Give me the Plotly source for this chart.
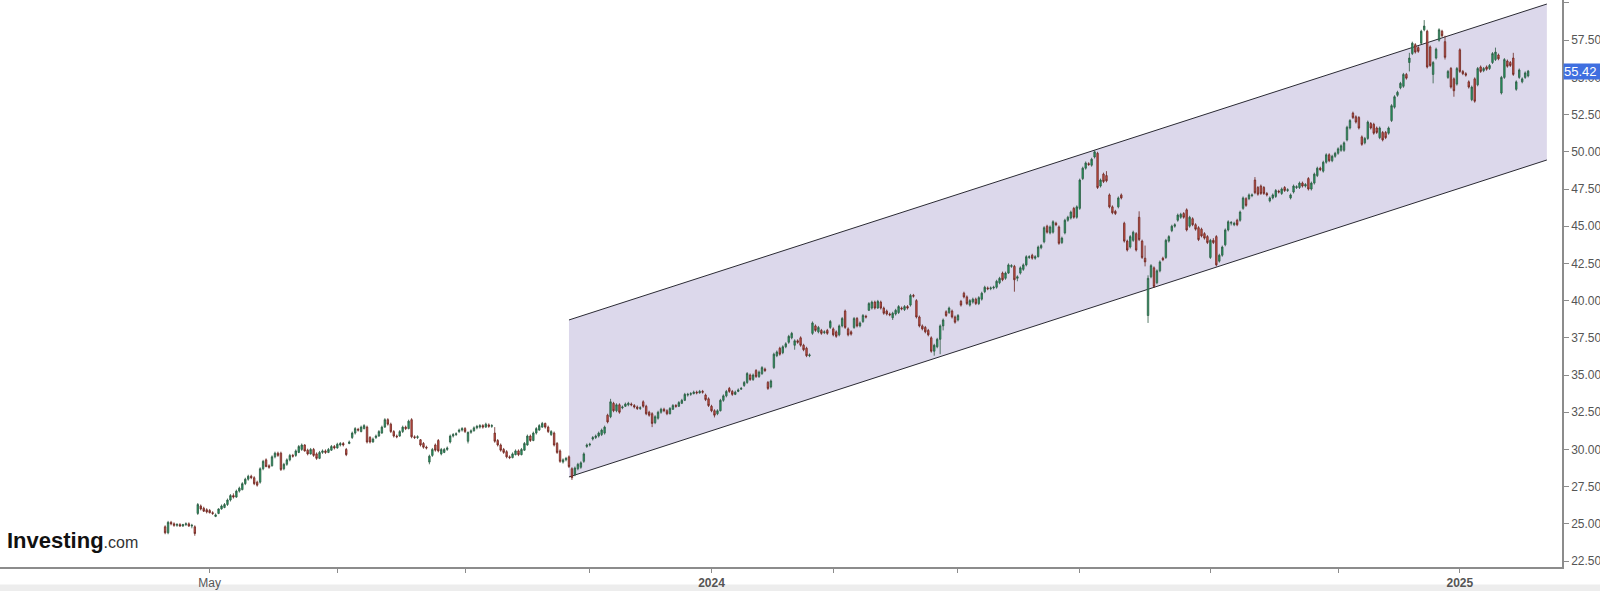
import pandas as pd
import plotly.graph_objects as go

# ---------------- data (daily candles) ----------------
start_date = "2023-04-10"
end_date = "2025-02-06"
holidays = ["2023-05-29", "2023-06-19", "2023-07-04", "2023-09-04", "2023-11-23", "2023-12-25",
            "2024-01-01", "2024-01-15", "2024-02-19", "2024-03-29", "2024-05-27", "2024-06-19",
            "2024-07-04", "2024-09-02", "2024-11-28", "2024-12-25",
            "2025-01-01", "2025-01-09", "2025-01-20"]

open_ = [
    24.8, 24.4, 25.1, 25.0, 24.9, 24.95, 24.85, 24.95, 25.0, 24.85,
    24.8, 25.7, 26.2, 26.05, 25.95, 25.9, 25.75, 25.5, 25.7, 26.0,
    26.1, 26.3, 26.6, 26.9, 26.8, 27.2, 27.3, 27.7, 28.0, 28.2,
    28.1, 27.8, 27.8, 28.7, 29.3, 28.9, 28.9, 29.5, 29.75, 29.75,
    28.7, 29.0, 29.3, 29.6, 29.6, 29.8, 30.0, 30.3, 29.95, 29.7,
    30.0, 29.7, 29.4, 29.8, 29.9, 29.8, 29.95, 30.2, 30.1, 30.3,
    30.4, 30.0, 30.4, 30.8, 31.1, 31.35, 31.2, 31.4, 31.5, 30.8,
    30.5, 30.8, 30.9, 31.1, 31.5, 32.0, 31.7, 31.2, 30.9, 30.9,
    31.2, 31.5, 31.4, 32.0, 30.85, 30.8, 30.65, 30.4, 30.15, 29.15,
    29.6, 30.3, 30.6, 29.7, 29.8, 30.0, 30.5, 30.9, 31.0, 31.2,
    31.3, 31.4, 30.55, 31.15, 31.25, 31.45, 31.5, 31.6, 31.5, 31.65,
    31.55, 31.1, 30.6, 30.3, 30.0, 29.85, 29.5, 29.45, 29.65, 29.9,
    29.65, 29.95, 30.3, 30.9, 30.6, 31.1, 31.3, 31.5, 31.75, 31.5,
    31.0, 31.1, 30.4, 29.9, 29.15, 29.3, 29.5, 28.7, 28.3, 28.7,
    28.8, 29.2, 30.2, 30.3, 30.7, 30.8, 30.9, 31.0, 31.1, 32.3,
    32.2, 33.1, 32.6, 33.0, 32.8, 32.9, 33.0, 33.05, 32.95, 32.85,
    32.75, 33.2, 32.9, 32.5, 32.4, 31.8, 32.1, 32.5, 32.7, 32.6,
    32.4, 32.7, 32.95, 32.9, 33.1, 33.3, 33.65, 33.7, 33.75, 33.85,
    33.8, 33.9, 33.65, 33.4, 32.9, 32.6, 32.4, 32.6, 33.3, 33.6,
    34.1, 33.9, 33.7, 33.9, 34.05, 34.3, 34.5, 35.0, 34.7, 35.3,
    34.9, 35.1, 35.4, 34.5, 34.2, 35.5, 36.3, 36.8, 36.5, 36.9,
    37.2, 37.5, 37.0, 37.3, 37.5, 37.0, 36.8, 36.3, 37.8, 38.3,
    37.9, 38.0, 37.85, 38.0, 38.2, 38.1, 37.9, 37.7, 38.3, 39.3,
    38.1, 37.9, 38.2, 38.8, 38.3, 38.6, 38.95, 39.35, 39.5, 39.9,
    39.5, 39.9, 39.5, 39.3, 39.1, 38.85, 39.1, 39.2, 39.5, 39.4,
    39.6, 39.7, 40.35, 40.0, 38.9, 38.3, 38.2, 38.0, 37.5, 36.6,
    36.9, 37.4, 38.3, 39.25, 39.2, 39.3, 38.9, 38.7, 39.95, 40.5,
    40.25, 39.7, 39.9, 40.1, 39.8, 40.1, 40.6, 40.85, 40.8, 40.85,
    40.9, 41.2, 41.85, 41.5, 41.85, 42.3, 42.3, 41.5, 41.85, 42.1,
    42.4, 42.9, 43.05, 42.85, 42.95, 43.55, 43.95, 45.0, 44.55, 44.6,
    45.2, 44.95, 43.9, 44.55, 45.4, 45.55, 46.2, 45.6, 46.2, 48.2,
    48.9, 49.2, 49.1, 49.65, 49.9, 47.7, 48.5, 48.4, 47.1, 46.3,
    46.0, 46.3, 47.1, 45.2, 44.0, 43.6, 44.05, 44.5, 45.6, 44.0,
    42.85, 39.0, 41.6, 42.2, 41.2, 42.0, 42.85, 42.9, 44.0, 44.7,
    45.0, 45.4, 45.6, 45.85, 46.1, 45.0, 45.5, 45.1, 44.9, 44.8,
    44.5, 44.3, 42.9, 44.05, 44.3, 42.65, 43.05, 43.75, 44.75, 45.2,
    45.1, 45.4, 45.4, 46.2, 46.85, 46.85, 47.05, 48.1, 47.6, 47.7,
    47.6, 47.2, 46.7, 46.9, 47.0, 47.35, 47.2, 47.6, 47.4, 46.9,
    47.3, 47.6, 47.6, 47.9, 47.7, 48.2, 47.5, 47.9, 48.4, 48.9,
    48.7, 49.3, 49.8, 49.4, 49.7, 49.9, 50.1, 50.1, 50.8, 51.6,
    52.6, 52.35, 52.3, 51.0, 50.6, 50.9, 51.9, 51.85, 51.6, 50.95,
    51.3, 51.3, 51.25, 52.1, 53.0, 53.8, 54.3, 54.4, 55.2, 56.0,
    56.6, 57.2, 57.0, 57.3, 58.2, 58.1, 57.05, 55.2, 56.3, 57.5,
    58.1, 57.4, 55.0, 55.6, 54.9, 54.55, 56.85, 55.4, 55.25, 54.7,
    53.5, 54.9, 54.5, 55.7, 55.45, 55.7, 55.6, 56.0, 56.2, 56.5,
    53.95, 55.0, 56.1, 56.0, 56.3, 54.2, 55.0, 54.7, 55.0, 55.1,
]

high = [
    24.9, 25.2, 25.2, 25.1, 25.05, 25.05, 25.0, 25.1, 25.1, 25.0,
    24.9, 26.4, 26.3, 26.15, 26.05, 26.0, 25.85, 25.7, 26.05, 26.3,
    26.4, 26.7, 27.0, 27.05, 27.3, 27.5, 27.8, 28.1, 28.3, 28.3,
    28.2, 27.9, 28.8, 29.3, 29.4, 29.0, 29.6, 29.85, 29.85, 29.85,
    29.1, 29.4, 29.7, 29.7, 30.0, 30.3, 30.4, 30.35, 30.05, 30.1,
    30.1, 29.8, 29.9, 30.0, 30.0, 30.1, 30.3, 30.3, 30.45, 30.5,
    30.5, 30.1, 30.6, 31.2, 31.5, 31.45, 31.6, 31.7, 31.6, 30.9,
    30.8, 31.0, 31.3, 31.6, 32.1, 32.1, 31.8, 31.3, 31.0, 31.3,
    31.6, 31.6, 32.0, 32.1, 30.95, 30.95, 30.7, 30.5, 30.25, 29.65,
    30.1, 30.4, 30.7, 30.1, 30.1, 30.2, 31.0, 31.1, 31.15, 31.4,
    31.5, 31.5, 31.2, 31.35, 31.55, 31.65, 31.7, 31.7, 31.8, 31.75,
    31.7, 31.5, 30.7, 30.4, 30.1, 29.95, 29.6, 29.8, 30.0, 30.0,
    30.1, 30.5, 31.0, 31.0, 31.2, 31.5, 31.7, 31.85, 31.8, 31.6,
    31.3, 31.2, 30.5, 30.0, 29.4, 29.5, 29.6, 28.8, 28.85, 29.1,
    29.2, 29.8, 30.4, 30.45, 30.9, 31.0, 31.2, 31.4, 31.6, 32.4,
    33.4, 33.2, 33.1, 33.1, 32.95, 33.15, 33.2, 33.15, 33.05, 32.95,
    32.9, 33.3, 33.0, 32.6, 32.5, 32.3, 32.6, 32.8, 32.8, 32.7,
    32.85, 33.05, 33.05, 33.25, 33.4, 33.8, 33.8, 33.85, 33.95, 33.95,
    34.0, 34.0, 33.75, 33.5, 33.0, 32.7, 32.7, 33.4, 33.7, 34.0,
    34.2, 34.0, 33.95, 34.1, 34.2, 34.6, 35.2, 35.1, 35.1, 35.4,
    35.3, 35.6, 35.5, 34.6, 34.7, 36.5, 36.65, 36.9, 37.0, 37.2,
    37.7, 37.9, 37.4, 37.4, 37.6, 37.1, 36.9, 36.45, 38.6, 38.4,
    38.3, 38.1, 38.0, 38.1, 38.7, 38.2, 38.0, 38.4, 38.9, 39.4,
    38.2, 38.0, 38.9, 38.9, 38.6, 39.1, 39.05, 39.9, 40.0, 40.0,
    40.05, 40.0, 39.6, 39.4, 39.2, 39.25, 39.45, 39.7, 39.6, 39.7,
    39.7, 40.45, 40.45, 40.1, 39.0, 38.4, 38.3, 38.1, 37.6, 37.1,
    37.5, 38.4, 38.8, 39.35, 39.6, 39.4, 39.0, 39.1, 40.05, 40.6,
    40.35, 40.1, 40.2, 40.2, 40.3, 40.6, 41.0, 40.95, 40.95, 41.0,
    41.4, 41.6, 41.95, 41.95, 42.5, 42.45, 42.4, 41.7, 42.3, 42.5,
    43.05, 43.05, 43.15, 43.05, 43.7, 43.8, 45.0, 45.1, 45.05, 45.4,
    45.3, 45.05, 44.3, 45.5, 45.7, 46.05, 46.3, 46.4, 48.2, 49.0,
    49.35, 49.3, 49.6, 50.1, 50.0, 48.2, 48.6, 48.7, 47.2, 46.4,
    46.1, 47.0, 47.2, 45.3, 44.1, 44.4, 44.7, 44.6, 46.0, 44.1,
    43.7, 41.7, 42.45, 42.3, 42.1, 42.7, 42.95, 44.15, 44.4, 45.1,
    45.2, 45.85, 45.9, 45.95, 46.2, 45.7, 45.6, 45.2, 45.0, 44.9,
    44.6, 44.4, 44.15, 44.2, 44.4, 43.15, 43.7, 44.85, 45.4, 45.35,
    45.3, 45.5, 46.05, 47.0, 46.95, 47.2, 47.2, 48.3, 47.7, 47.8,
    47.7, 47.3, 47.0, 47.2, 47.5, 47.45, 47.6, 47.7, 47.55, 47.2,
    47.8, 47.75, 48.0, 48.0, 47.9, 48.3, 48.0, 48.6, 49.0, 49.0,
    49.4, 49.9, 49.9, 49.8, 50.0, 50.3, 50.5, 50.7, 51.75, 52.2,
    52.7, 52.45, 52.4, 51.1, 51.0, 52.1, 52.0, 51.95, 51.7, 51.7,
    51.4, 51.4, 51.7, 53.2, 53.8, 54.1, 54.7, 55.3, 55.3, 56.65,
    57.4, 57.3, 57.1, 58.2, 58.85, 58.2, 57.15, 56.1, 57.0, 58.3,
    58.2, 57.8, 55.5, 55.7, 55.0, 55.7, 56.95, 55.5, 55.35, 54.8,
    54.45, 55.0, 55.7, 55.8, 55.7, 55.8, 55.9, 56.7, 57.0, 56.6,
    55.1, 56.3, 56.2, 56.1, 56.65, 54.8, 55.6, 55.0, 55.4, 55.5,
]

low = [
    24.3, 24.3, 24.9, 24.8, 24.8, 24.8, 24.8, 24.85, 24.8, 24.7,
    24.2, 25.6, 25.9, 25.8, 25.7, 25.7, 25.6, 25.45, 25.65, 25.95,
    26.05, 26.2, 26.5, 26.7, 26.75, 27.1, 27.25, 27.6, 27.9, 28.0,
    27.6, 27.5, 27.7, 28.6, 28.8, 28.7, 28.85, 29.4, 29.5, 28.55,
    28.6, 28.9, 29.2, 29.45, 29.5, 29.75, 29.9, 29.85, 29.6, 29.65,
    29.5, 29.3, 29.35, 29.7, 29.7, 29.75, 29.9, 30.0, 30.05, 30.2,
    30.2, 29.55, 30.35, 30.7, 31.0, 31.2, 31.15, 31.35, 30.4, 30.4,
    30.45, 30.7, 30.85, 31.05, 31.45, 31.6, 31.1, 30.8, 30.75, 30.85,
    31.1, 31.3, 31.35, 30.75, 30.7, 30.7, 30.2, 30.05, 30.0, 29.0,
    29.5, 29.85, 29.8, 29.6, 29.75, 29.9, 30.4, 30.8, 30.9, 31.1,
    31.2, 31.1, 30.4, 31.05, 31.2, 31.35, 31.4, 31.4, 31.45, 31.45,
    31.45, 30.45, 30.2, 29.85, 29.7, 29.4, 29.35, 29.4, 29.6, 29.55,
    29.6, 29.9, 30.25, 30.5, 30.55, 31.0, 31.25, 31.45, 31.4, 31.1,
    30.9, 30.2, 29.7, 29.1, 29.05, 29.2, 28.75, 27.95, 28.2, 28.6,
    28.7, 29.1, 30.1, 30.2, 30.6, 30.7, 30.8, 30.9, 31.0, 31.75,
    32.1, 32.5, 32.5, 32.4, 32.7, 32.85, 32.9, 32.9, 32.75, 32.65,
    32.65, 32.8, 32.3, 32.2, 31.5, 31.7, 32.0, 32.4, 32.5, 32.3,
    32.35, 32.65, 32.8, 32.85, 33.05, 33.25, 33.55, 33.6, 33.7, 33.7,
    33.75, 33.75, 33.25, 32.85, 32.5, 32.15, 32.3, 32.55, 33.2, 33.5,
    33.8, 33.6, 33.65, 33.85, 34.0, 34.2, 34.4, 34.6, 34.6, 34.8,
    34.8, 35.0, 35.2, 34.0, 34.1, 35.4, 36.2, 36.3, 36.4, 36.8,
    37.1, 37.4, 36.7, 37.1, 36.9, 36.6, 36.2, 36.2, 37.7, 37.9,
    37.8, 37.7, 37.75, 37.7, 38.1, 37.6, 37.5, 37.6, 38.2, 38.1,
    37.6, 37.65, 38.1, 38.2, 38.2, 38.5, 38.8, 39.3, 39.4, 39.4,
    39.45, 39.4, 39.05, 39.0, 38.95, 38.7, 39.0, 39.1, 39.35, 39.3,
    39.4, 39.6, 40.2, 38.8, 38.2, 38.0, 37.8, 37.6, 36.5, 36.3,
    36.8, 36.4, 38.0, 38.9, 39.1, 38.8, 38.45, 38.6, 39.6, 40.15,
    39.7, 39.6, 39.8, 39.7, 39.7, 40.0, 40.5, 40.7, 40.7, 40.75,
    40.8, 41.1, 41.3, 41.4, 41.8, 42.2, 40.6, 41.3, 41.75, 42.0,
    42.3, 42.8, 42.75, 42.75, 42.9, 43.45, 43.85, 44.5, 44.45, 44.5,
    45.0, 43.75, 43.8, 44.45, 45.3, 45.45, 45.5, 45.5, 46.1, 48.1,
    48.8, 49.05, 49.0, 49.55, 47.5, 47.6, 47.9, 47.95, 46.2, 45.8,
    45.75, 46.2, 46.8, 43.9, 43.3, 43.5, 43.95, 43.3, 44.0, 42.8,
    42.3, 38.5, 41.5, 40.85, 41.1, 41.9, 42.65, 42.8, 43.9, 44.6,
    44.9, 45.3, 45.5, 45.5, 44.65, 44.9, 45.0, 44.7, 44.0, 44.25,
    44.1, 43.8, 42.8, 43.8, 42.3, 42.55, 42.95, 43.65, 44.65, 45.05,
    45.0, 45.0, 45.3, 46.1, 46.3, 46.75, 46.95, 47.15, 47.05, 47.1,
    47.1, 47.0, 46.6, 46.8, 46.9, 47.2, 47.1, 47.3, 47.3, 46.8,
    47.2, 47.5, 47.5, 47.6, 47.6, 47.4, 47.4, 47.8, 48.3, 48.7,
    48.6, 49.2, 49.3, 49.3, 49.6, 49.8, 50.0, 50.0, 50.7, 51.5,
    52.2, 51.9, 51.5, 50.4, 50.5, 50.8, 51.5, 51.15, 51.2, 50.85,
    50.7, 50.85, 51.15, 52.0, 52.9, 53.7, 54.2, 54.3, 54.85, 55.4,
    56.5, 56.6, 56.65, 57.2, 58.1, 55.6, 55.7, 54.6, 56.2, 57.4,
    57.7, 56.2, 54.9, 54.25, 53.7, 54.45, 55.3, 55.15, 55.05, 54.25,
    53.4, 53.3, 54.4, 55.3, 55.35, 55.45, 55.5, 55.9, 56.1, 56.15,
    53.85, 54.9, 55.65, 55.7, 55.1, 54.1, 54.9, 54.6, 54.9, 55.0,
]

close = [
    24.4, 25.1, 25.0, 24.9, 24.95, 24.85, 24.95, 25.0, 24.85, 24.9,
    24.35, 26.3, 26.0, 25.85, 25.8, 25.75, 25.7, 25.6, 26.0, 26.2,
    26.3, 26.6, 26.9, 26.8, 27.2, 27.4, 27.7, 28.0, 28.2, 28.1,
    27.7, 27.6, 28.7, 29.2, 28.85, 28.8, 29.5, 29.75, 29.6, 28.65,
    29.0, 29.3, 29.6, 29.55, 29.9, 30.2, 30.3, 29.9, 29.7, 30.0,
    29.6, 29.4, 29.8, 29.9, 29.8, 30.0, 30.2, 30.1, 30.35, 30.4,
    30.3, 29.65, 30.5, 31.1, 31.4, 31.3, 31.5, 31.6, 30.5, 30.5,
    30.7, 30.9, 31.2, 31.5, 32.0, 31.7, 31.2, 30.9, 30.85, 31.2,
    31.5, 31.4, 31.9, 30.85, 30.8, 30.85, 30.3, 30.15, 30.1, 29.55,
    30.0, 29.95, 29.9, 30.0, 30.0, 30.1, 30.9, 31.0, 31.05, 31.3,
    31.4, 31.2, 31.15, 31.25, 31.45, 31.55, 31.6, 31.5, 31.7, 31.55,
    31.6, 30.55, 30.3, 29.95, 29.8, 29.5, 29.45, 29.7, 29.9, 29.65,
    30.0, 30.4, 30.9, 30.6, 31.1, 31.4, 31.6, 31.75, 31.5, 31.2,
    31.2, 30.3, 29.8, 29.2, 29.3, 29.4, 28.85, 28.1, 28.75, 29.0,
    29.1, 29.7, 30.3, 30.35, 30.8, 30.9, 31.1, 31.3, 31.5, 31.85,
    33.2, 32.6, 33.0, 32.5, 32.85, 33.05, 33.1, 33.0, 32.85, 32.75,
    32.8, 32.9, 32.4, 32.3, 31.75, 32.2, 32.5, 32.7, 32.6, 32.4,
    32.75, 32.95, 32.9, 33.15, 33.3, 33.7, 33.7, 33.75, 33.85, 33.8,
    33.9, 33.85, 33.35, 32.95, 32.6, 32.3, 32.6, 33.3, 33.6, 33.9,
    33.9, 33.7, 33.85, 34.0, 34.1, 34.5, 35.1, 34.7, 35.0, 34.9,
    35.2, 35.5, 35.3, 34.1, 34.6, 36.4, 36.55, 36.4, 36.9, 37.1,
    37.6, 37.8, 37.3, 37.2, 37.0, 36.7, 36.3, 36.35, 38.5, 38.0,
    38.2, 37.8, 37.9, 37.8, 38.6, 37.7, 37.6, 38.3, 38.8, 38.2,
    37.7, 37.75, 38.8, 38.3, 38.5, 39.0, 38.9, 39.8, 39.9, 39.5,
    39.95, 39.5, 39.15, 39.1, 39.05, 39.15, 39.35, 39.6, 39.45, 39.6,
    39.5, 40.35, 40.3, 38.9, 38.3, 38.1, 37.9, 37.7, 36.6, 37.0,
    37.4, 38.3, 38.7, 39.0, 39.5, 38.9, 38.55, 39.0, 39.7, 40.25,
    39.8, 40.0, 40.1, 39.8, 40.2, 40.5, 40.9, 40.8, 40.85, 40.9,
    41.3, 41.5, 41.4, 41.85, 42.4, 42.35, 41.4, 41.6, 42.2, 42.4,
    42.95, 42.95, 42.85, 42.95, 43.6, 43.7, 44.9, 44.6, 44.95, 45.3,
    45.1, 43.85, 44.2, 45.4, 45.6, 45.95, 45.6, 46.3, 48.1, 48.9,
    49.25, 49.15, 49.5, 50.0, 47.6, 48.1, 48.0, 48.05, 46.3, 45.9,
    45.85, 46.9, 46.9, 44.0, 43.4, 44.3, 44.6, 43.4, 44.1, 42.9,
    42.6, 41.5, 42.35, 40.95, 42.0, 42.6, 42.75, 44.05, 44.3, 45.0,
    45.1, 45.75, 45.8, 45.6, 44.75, 45.6, 45.1, 44.8, 44.1, 44.35,
    44.2, 43.9, 44.05, 43.9, 42.4, 43.05, 43.6, 44.75, 45.3, 45.25,
    45.2, 45.1, 45.95, 46.9, 46.4, 47.1, 47.1, 47.25, 47.15, 47.2,
    47.2, 47.1, 46.9, 47.1, 47.4, 47.3, 47.5, 47.4, 47.45, 47.1,
    47.7, 47.65, 47.9, 47.7, 47.8, 47.5, 47.9, 48.5, 48.9, 48.8,
    49.3, 49.8, 49.4, 49.7, 49.9, 50.2, 50.4, 50.6, 51.65, 52.1,
    52.3, 52.0, 51.6, 50.5, 50.9, 52.0, 51.6, 51.25, 51.3, 51.6,
    50.8, 50.95, 51.6, 53.1, 53.7, 54.0, 54.6, 55.2, 54.95, 56.3,
    57.3, 56.7, 56.75, 58.1, 58.45, 55.7, 55.8, 56.0, 56.9, 58.2,
    57.8, 56.35, 55.4, 54.35, 54.1, 55.6, 55.4, 55.25, 55.15, 54.35,
    54.35, 53.4, 55.6, 55.4, 55.6, 55.55, 55.8, 56.6, 56.7, 56.25,
    55.0, 56.2, 55.75, 55.8, 55.2, 54.7, 55.5, 54.9, 55.3, 55.42,
]

# trend channel drawn on the chart (candle index, price)
channel_x = [136.0, 465.3]
channel_upper = [38.7, 59.93]
channel_lower = [28.15, 49.45]

last_price = 55.42
y_ticks = [22.5, 25.0, 27.5, 30.0, 32.5, 35.0, 37.5, 40.0, 42.5, 45.0, 47.5, 50.0, 52.5, 55.0, 57.5, 60.0]
tick_labels = {(2023, 5): "May", (2024, 1): "<b>2024</b>", (2025, 1): "<b>2025</b>"}

# ---------------- build ----------------
n = len(close)
days = pd.bdate_range(start_date, end_date)
days = days[~days.isin(pd.to_datetime(holidays))][:n]
xs = list(range(n))

tickvals, ticktext = [], []
for i in range(1, len(days)):
    d, p = days[i], days[i - 1]
    if d.month != p.month and d.month % 2 == 1:
        tickvals.append(i)
        ticktext.append(tick_labels.get((d.year, d.month), ""))

FONT = "Liberation Sans, Arial, sans-serif"

fig = go.Figure()
fig.add_trace(go.Candlestick(
    x=xs, open=open_, high=high, low=low, close=close,
    increasing=dict(fillcolor="#22a064", line=dict(color="#2d5a43", width=0.8)),
    decreasing=dict(fillcolor="#d2554a", line=dict(color="#6b2620", width=0.8)),
    whiskerwidth=0, showlegend=False, hoverinfo="skip",
))

# channel fill + borders
fig.add_shape(type="path", xref="x", yref="y", layer="below",
              path=(f"M {channel_x[0]},{channel_upper[0]} L {channel_x[1]},{channel_upper[1]} "
                    f"L {channel_x[1]},{channel_lower[1]} L {channel_x[0]},{channel_lower[0]} Z"),
              fillcolor="#dcd8eb", line=dict(width=0))
fig.add_shape(type="line", xref="x", yref="y", layer="below",
              x0=channel_x[0], y0=channel_upper[0], x1=channel_x[1], y1=channel_upper[1],
              line=dict(color="#2a2a33", width=1))
fig.add_shape(type="line", xref="x", yref="y", layer="below",
              x0=channel_x[0], y0=channel_lower[0], x1=channel_x[1], y1=channel_lower[1],
              line=dict(color="#2a2a33", width=1))

# light strip at the very bottom
fig.add_shape(type="rect", xref="paper", yref="paper", x0=-0.01, x1=1.03,
              y0=-0.045, y1=-0.031, fillcolor="#ededed", line=dict(width=0), layer="below")

# last price tag
fig.add_annotation(x=1.0, xref="paper", y=last_price, yref="y", xanchor="left", yanchor="middle",
                   xshift=1, text=f"{last_price:.2f}&nbsp;&nbsp;", showarrow=False,
                   font=dict(family=FONT, size=13, color="white"),
                   bgcolor="#3f6fe0", borderpad=0)

# logo
fig.add_annotation(x=0.0035, xref="paper", y=0.046, yref="paper", xanchor="left", yanchor="middle",
                   text="<b>Investing</b><span style='font-size:16px;color:#333'>.com</span>",
                   showarrow=False, font=dict(family=FONT, size=22, color="#111"))

fig.update_layout(
    width=1600, height=591,
    margin=dict(l=0, r=38, t=0, b=24, pad=0),
    paper_bgcolor="white", plot_bgcolor="white",
    showlegend=False,
    xaxis=dict(range=[-55.6, 470.4], rangeslider=dict(visible=False), showgrid=False, zeroline=False,
               showline=True, linecolor="#8c8c8c", linewidth=1.5, ticks="outside", ticklen=4,
               tickcolor="#8c8c8c", tickvals=tickvals, ticktext=ticktext, automargin=False,
               tickfont=dict(family=FONT, size=12, color="#555")),
    yaxis=dict(side="right", range=[22.1, 60.2], tickvals=y_ticks, tickformat=".2f",
               showgrid=False, zeroline=False, showline=True, linecolor="#8c8c8c", linewidth=1.5,
               ticks="outside", ticklen=5, tickcolor="#8c8c8c", automargin=False,
               tickfont=dict(family=FONT, size=12, color="#555")),
)

fig.write_html("out.html", config={"displayModeBar": False},
               post_script="document.body.style.margin='0';document.body.style.overflow='hidden';")
